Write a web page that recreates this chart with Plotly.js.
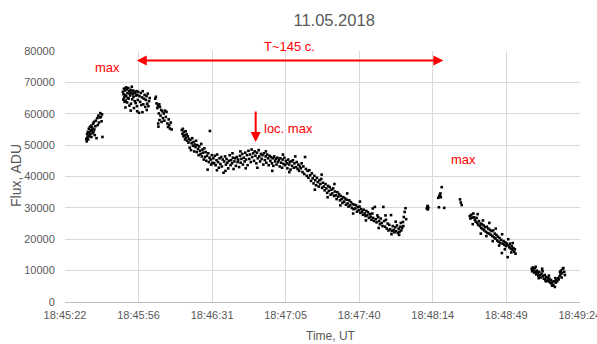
<!DOCTYPE html>
<html>
<head>
<meta charset="utf-8">
<script src="https://cdn.plot.ly/plotly-3.0.1.min.js"></script>
<style>html,body{margin:0;padding:0;background:#fff;}#chart{width:597px;height:344px;}</style>
</head>
<body>
<div id="chart"></div>
<script>
// Time in seconds after 18:45:00 UT, flux in ADU
const tickSeconds = [21.6, 56.16, 90.72, 125.28, 159.84, 194.4, 228.96, 263.52];
const tickLabels = ["18:45:22", "18:45:56", "18:46:31", "18:47:05", "18:47:40", "18:48:14", "18:48:49", "18:49:24"];

const segA = [[31.6,52000],[31.8,51200],[32.0,53500],[32.1,52400],[32.3,54200],[32.5,51800],[32.6,53000],[32.8,55200],[33.0,54000],[33.1,52800],[33.3,55800],[33.5,53600],[33.7,54600],[33.9,56200],[34.0,52600],[34.2,54800],[34.4,55600],[34.6,53800],[34.8,56800],[35.0,54200],[35.2,57400],[35.4,55000],[35.6,53200],[35.9,56000],[36.1,57800],[36.4,52200],[36.7,58600],[37.0,56400],[37.3,59400],[37.6,57200],[37.9,58800],[38.2,60200],[38.5,59000],[38.8,57600],[39.0,59800],[39.2,52600]];

const segB = [[48.8,67000],[49.0,64500],[49.1,66200],[49.3,68000],[49.4,65200],[49.6,63800],[49.8,67400],[49.9,66000],[50.1,64200],[50.3,68400],[50.4,65600],[50.6,67800],[50.8,63600],[51.0,66600],[51.1,65000],[51.3,68200],[51.5,64800],[51.7,67200],[51.9,62600],[52.0,66400],[52.2,65800],[52.4,67600],[52.6,63200],[52.8,66800],[53.0,68600],[53.2,64600],[53.4,66200],[53.6,67400],[53.8,65400],[54.0,61800],[54.2,67000],[54.4,64000],[54.6,66600],[54.8,63400],[55.0,65800],[55.2,67200],[55.4,62400],[55.6,66000],[55.8,64400],[56.0,67000],[56.4,60300],[56.6,65600],[56.9,63800],[57.2,66600],[57.5,62800],[57.8,65200],[58.1,67200],[58.4,63000],[58.7,64800],[59.0,66000],[59.3,62200],[59.6,64400],[59.9,65600],[60.2,63200],[60.5,66400],[60.8,62400],[61.1,64000],[61.4,65000],[50.0,62000],[52.5,61000],[55.5,60800],[58.0,60500],[60.0,61200]];

const segC = [[64.0,64800],[64.3,65400],[64.6,63300],[65.0,61800],[65.3,62600],[65.4,56900],[65.7,60100],[65.9,63000],[66.2,62200],[66.5,59400],[66.8,61200],[67.0,57400],[67.3,60800],[67.6,58600],[68.0,60100],[68.3,57800],[68.6,61000],[69.0,59000],[69.3,60600],[69.7,56900],[70.0,55800],[70.3,58200],[70.6,56400],[70.9,55300],[71.3,57200],[71.7,55000],[65.5,55900],[66.0,58000]];

const segD = [[76.5,54800],[76.8,53600],[77.0,55200],[77.3,52800],[77.5,54200],[77.8,53200],[78.0,51800],[78.3,54400],[78.5,52400],[78.8,53400],[79.0,51400],[79.3,52800],[79.6,50800],[79.9,52000],[80.2,49200],[80.5,51600],[80.8,48400],[81.1,50600],[81.4,52200],[81.7,49800],[82.0,51000],[82.3,48000],[82.6,50200],[82.9,49400],[83.2,51400],[83.5,47800],[83.8,50000],[84.1,48800],[84.4,46800],[84.7,49600],[85.0,48200],[85.3,47200],[85.6,50400],[85.9,46400],[86.2,48600],[86.5,47600],[86.8,45400],[87.1,49000],[87.4,46200],[87.7,47800],[88.0,45000],[88.3,46600],[88.6,42200],[88.9,47400],[89.2,44600],[89.5,46000],[89.7,54500],[90.0,45400],[90.3,43800],[90.6,46800],[90.9,44400]];

const segE = [[91.3,45800],[91.7,44200],[92.0,46600],[92.4,43600],[92.8,45200],[93.1,47000],[93.5,44600],[93.9,42800],[94.2,45800],[94.6,44000],[95.0,46200],[95.3,43200],[95.7,45400],[96.1,41200],[96.4,44800],[96.8,46400],[97.2,43800],[97.5,45600],[97.9,44400],[98.3,42600],[98.6,45000],[99.0,46800],[99.4,43600],[99.7,45200],[100.1,44200],[100.5,46000],[100.8,42400],[101.2,44800],[101.6,45800],[101.9,43400],[102.3,46200],[102.7,44600],[103.0,45400],[103.4,43000],[103.8,46600],[104.1,44400],[104.5,45600],[104.9,47200],[105.2,43800],[105.6,46000],[106.0,44800],[106.3,47600],[106.7,45400],[107.1,46800],[107.4,43600],[107.8,48200],[108.2,45600],[108.5,47000],[108.9,44600],[109.3,48600],[109.6,46200],[110.0,47400],[110.4,45000],[110.7,48000],[111.1,46600],[111.5,44200],[111.8,47600],[112.2,45800],[112.6,48400],[112.9,46400],[113.3,44800],[113.7,47200],[114.0,45600],[114.4,46800],[114.8,43800],[115.1,47400],[115.5,45200],[115.9,46400],[116.2,44400],[116.6,47000],[117.0,45800],[117.3,43600],[117.7,46600],[118.1,45000],[118.4,46200],[118.8,44200],[119.2,45800],[119.5,43400],[119.9,46400],[120.3,44800],[120.6,45600],[121.0,43800],[121.4,46000],[121.7,44600],[122.1,45200],[122.5,43200],[122.8,45800],[123.2,44400],[123.6,42800],[123.9,45400],[124.3,44000],[124.7,46000],[125.0,43600],[125.4,45000],[125.8,44200],[126.1,42600],[126.5,45400],[126.9,43800],[127.2,44600],[127.6,42200],[128.0,44800],[128.3,43400],[128.7,45200],[129.1,42800],[129.4,44200],[129.8,46400],[130.2,43000],[130.5,44600],[130.9,42400],[131.3,43800],[131.6,41800],[132.0,43200],[93.0,42000],[97.0,41800],[100.3,47400],[104.0,48000],[106.5,42600],[112.0,42800],[116.0,48000],[119.0,41800],[124.0,47000],[127.0,41400]];

const segF = [[132.4,42600],[132.8,44200],[133.2,41400],[133.6,43200],[134.0,40800],[134.4,46200],[134.8,42400],[135.2,40200],[135.6,41800],[136.0,39600],[136.4,42000],[136.8,40400],[137.2,38600],[137.6,41000],[138.0,39400],[138.4,37800],[138.8,40200],[139.2,38800],[139.6,37200],[140.0,39600],[140.4,38200],[140.8,36800],[141.2,38800],[141.6,37600],[142.0,39200],[142.4,36400],[142.8,38000],[143.2,36800],[143.6,35600],[144.0,37600],[144.4,36200],[144.8,34800],[145.2,37000],[145.6,35400],[146.0,36600],[146.4,34200],[146.8,35800],[147.2,34600],[147.6,36200],[148.0,33800],[148.4,35200],[148.8,34000],[149.2,32800],[149.6,35000],[150.0,33600],[150.4,34400],[150.8,32400],[151.2,33800],[151.6,32800],[152.0,31600],[152.4,33400],[152.8,32000],[153.2,33000],[153.6,31000],[154.0,32600],[154.4,31400],[154.8,30400],[155.2,32400],[155.6,30800],[156.0,31800],[156.4,30000],[156.8,31200],[157.2,29600],[157.6,31000],[158.0,29800],[158.4,30800],[158.8,28800],[159.2,30200],[159.6,29200],[160.0,30400],[160.4,28400],[160.8,29600],[161.2,28800],[161.6,27800],[162.0,29400],[162.4,28200],[162.8,27400],[163.2,29000],[163.6,27600],[164.0,28600],[164.4,26800],[164.8,28000],[165.2,27200],[165.6,26200],[166.0,28200],[166.4,26800],[166.8,25800],[167.2,30300],[167.6,26400],[168.0,25400],[168.4,27600],[168.8,27000],[169.2,25800],[169.6,24800],[170.0,26600],[170.4,25200],[170.8,24200],[171.2,30300],[171.6,25800],[172.0,24000],[172.4,26200],[172.8,23400],[173.2,25000],[173.6,22800],[174.0,24600],[174.4,23200],[174.8,27700],[175.2,22600],[175.6,24200],[176.0,23000],[176.4,22200],[176.8,23800],[177.2,22600],[177.6,24400],[178.0,22000],[178.4,23400],[178.8,22400],[179.2,24000],[179.6,22800],[180.0,23600],[180.4,25500],[180.8,27100],[181.2,28700],[181.6,29900],[181.9,26400],[180.6,24200],[139.0,35800],[142.2,40600],[145.0,33400],[148.2,37600],[151.0,30800],[154.2,34600],[157.0,28200],[160.2,32000],[163.0,26000],[166.2,29800],[169.0,23600],[172.2,27600],[175.0,21600],[177.0,25600],[178.6,21400],[179.4,25200]];

const segG = [[191.6,29800],[191.9,30300],[192.1,29500],[192.3,30100],[192.0,30600],[197.0,33200],[197.3,30200],[197.5,33800],[197.8,34100],[198.0,34600],[198.2,33400],[198.6,36600],[199.8,30000],[207.2,32700],[207.6,31700],[208.0,30900]];

const segH = [[211.8,27400],[212.1,26600],[212.5,27800],[213.0,26900],[213.5,28200],[213.8,27000],[214.2,26200],[214.6,25600],[215.0,26800],[215.3,25200],[215.7,24600],[216.1,25800],[216.5,24200],[216.9,25000],[217.2,23600],[217.5,24800],[217.9,23200],[218.3,24400],[218.6,22800],[219.0,23800],[219.4,22400],[219.8,24000],[220.1,22000],[220.5,23400],[220.9,21800],[221.3,23000],[221.7,21400],[222.0,22600],[222.4,21000],[222.8,22800],[223.2,20600],[223.5,21800],[223.9,20200],[224.3,21400],[224.7,19600],[225.0,20800],[225.4,19200],[225.8,20400],[226.2,18800],[226.6,19800],[226.9,15600],[227.3,18600],[227.7,19400],[228.1,18200],[228.5,19000],[228.8,17800],[229.2,18600],[229.6,14300],[230.0,18000],[230.4,17400],[230.7,18600],[231.1,17000],[231.5,17800],[231.9,16600],[232.3,17200],[232.7,16000],[233.0,16800],[233.3,15400],[213.2,24800],[215.5,28000],[217.0,21800],[218.0,26000],[219.6,21000],[221.0,25200],[222.6,19400],[224.0,23400],[225.6,18000],[227.0,21600],[228.3,16800],[229.9,20000],[231.3,15800],[232.0,18800]];

const segI = [[240.9,10600],[241.1,9800],[241.4,11000],[241.7,10200],[242.0,9400],[242.3,10800],[242.6,9600],[243.0,8800],[243.3,10000],[243.7,9200],[244.0,8400],[244.4,9600],[244.8,8600],[245.1,7800],[245.5,9000],[245.8,10600],[246.2,8200],[246.6,7400],[247.0,8600],[247.3,7200],[247.7,8000],[248.1,6800],[248.5,7600],[248.8,6600],[249.2,7400],[249.6,6200],[250.0,7000],[250.3,5800],[250.7,6400],[251.1,5400],[251.4,6600],[251.8,4800],[252.2,6200],[252.5,7000],[252.9,6600],[253.3,7600],[253.6,7200],[254.0,8200],[254.4,8800],[254.7,10000],[255.1,9200],[255.5,10600],[255.8,10800],[256.2,9600],[256.5,8600],[242.8,11200],[244.2,7600],[246.0,9800],[247.5,6600],[249.0,8400],[250.5,5200],[252.0,7600],[254.2,9600],[255.0,7800]];

const allPts = [].concat(segA, segB, segC, segD, segE, segF, segG, segH, segI);
const times = allPts.map(p => p[0]);
const fluxes = allPts.map(p => p[1]);

const sans = "Liberation Sans, Arial, sans-serif";
const grey = "#595959";
const red = "#ff0000";

const trace = {
  x: times, y: fluxes, type: "scatter", mode: "markers",
  marker: {color: "#000000", size: 2.6, symbol: "square"},
  hoverinfo: "skip", showlegend: false
};

const layout = {
  width: 597, height: 344,
  margin: {l: 65, r: 17, t: 51, b: 42},
  paper_bgcolor: "#ffffff", plot_bgcolor: "#ffffff",
  title: {text: "11.05.2018", font: {family: sans, size: 16.5, color: grey},
          x: 312/597, xanchor: "center", xref: "paper", y: 1 - 20/344, yanchor: "middle", yref: "container"},
  xaxis: {
    range: [21.6, 263.6], tickmode: "array", tickvals: tickSeconds, ticktext: tickLabels,
    showgrid: true, gridcolor: "#d9d9d9", gridwidth: 1,
    showline: true, linecolor: "#bfbfbf", linewidth: 1, zeroline: false,
    ticks: "outside", ticklen: 3, tickcolor: "rgba(0,0,0,0)", ticklabeloverflow: "allow",
    tickfont: {family: sans, size: 11, color: grey}, fixedrange: true
  },
  yaxis: {
    range: [0, 80000], dtick: 10000, tick0: 0, tickformat: "d",
    showgrid: true, gridcolor: "#d9d9d9", gridwidth: 1,
    showline: false, zeroline: false,
    ticks: "outside", ticklen: 7, tickcolor: "rgba(0,0,0,0)",
    tickfont: {family: sans, size: 11, color: grey}, fixedrange: true
  },
  annotations: [
    {xref: "paper", yref: "paper", x: (331-65)/515, y: (302-336)/251, text: "Time, UT",
     showarrow: false, xanchor: "center", yanchor: "middle", font: {family: sans, size: 12, color: grey}},
    {xref: "paper", yref: "paper", x: (16-65)/515, y: (302-176)/251, text: "Flux, ADU", textangle: -90,
     showarrow: false, xanchor: "center", yanchor: "middle", font: {family: sans, size: 14, color: grey}},
    {x: 41.8, y: 74600, text: "max", showarrow: false, font: {family: sans, size: 13, color: red}},
    {x: 127.3, xref: "x", yref: "paper", y: (302-46)/251, yanchor: "middle", text: "T~145 c.", showarrow: false, font: {family: sans, size: 13, color: red}},
    {x: 199.4, y: 77000, ax: 54.6, ay: 77000, axref: "x", ayref: "y", text: "", showarrow: true,
     arrowside: "end+start", arrowhead: 2, startarrowhead: 2, arrowsize: 1, startarrowsize: 1, arrowwidth: 2, arrowcolor: red,
     standoff: 0, startstandoff: 0},
    {x: 111.2, y: 51000, ax: 111.2, ay: 61200, axref: "x", ayref: "y", text: "", showarrow: true,
     arrowhead: 2, arrowsize: 1, arrowwidth: 2, arrowcolor: red, standoff: 0},
    {x: 126.4, y: 55300, text: "loc. max", showarrow: false, font: {family: sans, size: 13, color: red}},
    {x: 209.0, y: 45400, text: "max", showarrow: false, font: {family: sans, size: 13, color: red}}
  ]
};

Plotly.newPlot("chart", [trace], layout, {displayModeBar: false, staticPlot: true});
</script>
</body>
</html>
